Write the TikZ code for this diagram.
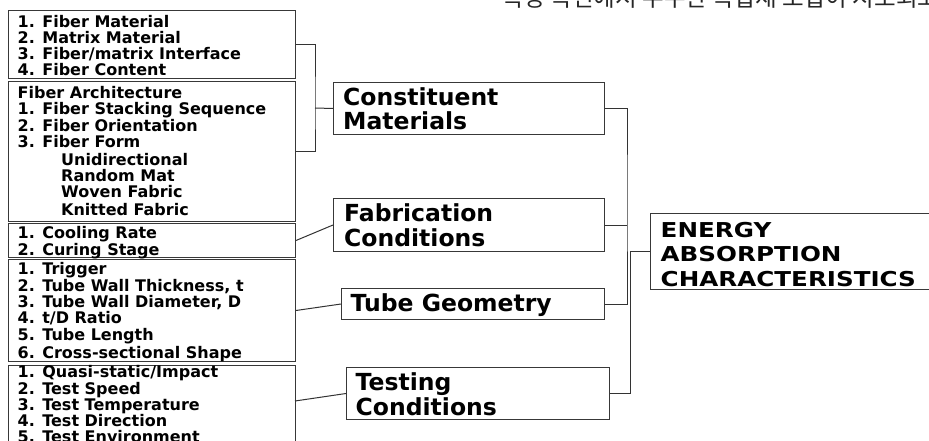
\documentclass[tikz,border=0pt]{standalone}
\usepackage{fontspec}
\setmainfont{DejaVu Sans}
\newfontfamily\krfont{Noto Sans CJK KR}
\newfontfamily\wideb[FakeStretch=1.2]{DejaVu Sans}
\tikzset{
  box/.style={draw=black!78, line width=1pt, inner sep=0pt, anchor=north west},
  item/.style={inner sep=0pt, anchor=base west, text=black, font=\fontsize{16}{16}\selectfont\bfseries},
  big/.style={inner sep=0pt, anchor=base west, text=black, font=\fontsize{23.5}{24}\selectfont\bfseries},
  huge/.style={inner sep=0pt, anchor=base west, text=black, font=\wideb\fontsize{20.5}{24}\selectfont\bfseries},
  wire/.style={draw=black!80, line width=1pt}
}
\begin{document}
\begin{tikzpicture}[x=1pt,y=-1pt]
\clip (0,0) rectangle (929,441);
\fill[white] (0,0) rectangle (929,441);
% Korean caption (cut off at the top)
\node[inner sep=0pt, anchor=base west, text=black!85, font=\krfont\fontsize{23.5}{23.5}\selectfont] (kt) at (502,7) {특정 측면에서 우수한 복합재 조합이 시도되고 있다};
% left boxes
\node[box, minimum width=287pt, minimum height=68pt] (b1) at (8,10) {};
\node[box, minimum width=287pt, minimum height=140pt] (b2) at (8,81) {};
\node[box, minimum width=287pt, minimum height=34pt] (b3) at (8,223) {};
\node[box, minimum width=287pt, minimum height=102pt] (b4) at (8,259) {};
\node[box, minimum width=287pt, minimum height=100pt] (b5) at (8,365) {};
% box 1
\node[item] (t11) at (17.5,27.3) {1. Fiber Material};
\node[item] (t12) at (17.5,43.6) {2. Matrix Material};
\node[item] (t13) at (17.5,59.9) {3. Fiber/matrix Interface};
\node[item] (t14) at (17.5,76) {4. Fiber Content};
% box 2
\node[item] (t20) at (17.5,99) {Fiber Architecture};
\node[item] (t21) at (17.5,115) {1. Fiber Stacking Sequence};
\node[item] (t22) at (17.5,131.5) {2. Fiber Orientation};
\node[item] (t23) at (17.5,147) {3. Fiber Form};
\node[item] (t24) at (61,165) {Unidirectional};
\node[item] (t25) at (61,181) {Random Mat};
\node[item] (t26) at (61,197) {Woven Fabric};
\node[item] (t27) at (61,215.5) {Knitted Fabric};
% box 3
\node[item] (t31) at (17.5,238) {1. Cooling Rate};
\node[item] (t32) at (17.5,255) {2. Curing Stage};
% box 4
\node[item] (t41) at (17.5,274) {1. Trigger};
\node[item] (t42) at (17.5,291) {2. Tube Wall Thickness, t};
\node[item] (t43) at (17.5,307) {3. Tube Wall Diameter, D};
\node[item] (t44) at (17.5,323.5) {4. t/D Ratio};
\node[item] (t45) at (17.5,340) {5. Tube Length};
\node[item] (t46) at (17.5,358) {6. Cross-sectional Shape};
% box 5
\node[item] (t51) at (17.5,377.5) {1. Quasi-static/Impact};
\node[item] (t52) at (17.5,394) {2. Test Speed};
\node[item] (t53) at (17.5,410) {3. Test Temperature};
\node[item] (t54) at (17.5,426) {4. Test Direction};
\node[item] (t55) at (17.5,442) {5. Test Environment};
% middle boxes
\node[box, minimum width=271pt, minimum height=52pt] (cm) at (333,82) {};
\node[big] (cm1) at (343,106) {Constituent};
\node[big] (cm2) at (343,129.5) {Materials};
\node[box, minimum width=271pt, minimum height=53pt] (fc) at (333,198) {};
\node[big] (fc1) at (344,221.7) {Fabrication};
\node[big] (fc2) at (344,246.7) {Conditions};
\node[box, minimum width=263pt, minimum height=31pt] (tg) at (341,288) {};
\node[big] (tg1) at (350.5,311.7) {Tube Geometry};
\node[box, minimum width=263pt, minimum height=52pt] (tc) at (346,367) {};
\node[big] (tc1) at (355.5,390.7) {Testing};
\node[big] (tc2) at (355.5,415) {Conditions};
% result box
\node[box, minimum width=300pt, minimum height=76pt] (ea) at (650,213) {};
\node[huge] (ea1) at (660.5,237.3) {ENERGY};
\node[huge] (ea2) at (660.5,261.7) {ABSORPTION};
\node[huge] (ea3) at (660.5,286) {CHARACTERISTICS};
% connectors, left side
\coordinate (j1) at (315,108);
\draw[wire] (b1.east) -| (j1) |- (b2.east);
\draw[wire] (j1) -- (cm.west);
\draw[wire] (b3.east) -- (fc.west);
\draw[wire] (b4.east) -- (tg.west);
\coordinate (b5e) at (295,401);
\draw[wire] (b5e) -- (tc.west);
% connectors, right side
\coordinate (j2) at (627,200);
\coordinate (j3) at (630,320);
\draw[wire] (cm.east) -| (j2) |- (tg.east);
\draw[wire] (fc.east) -- (fc.east -| j2);
\draw[wire] (tc.east) -| (ea.west -| j3) -- (ea.west);
\end{tikzpicture}
\end{document}
